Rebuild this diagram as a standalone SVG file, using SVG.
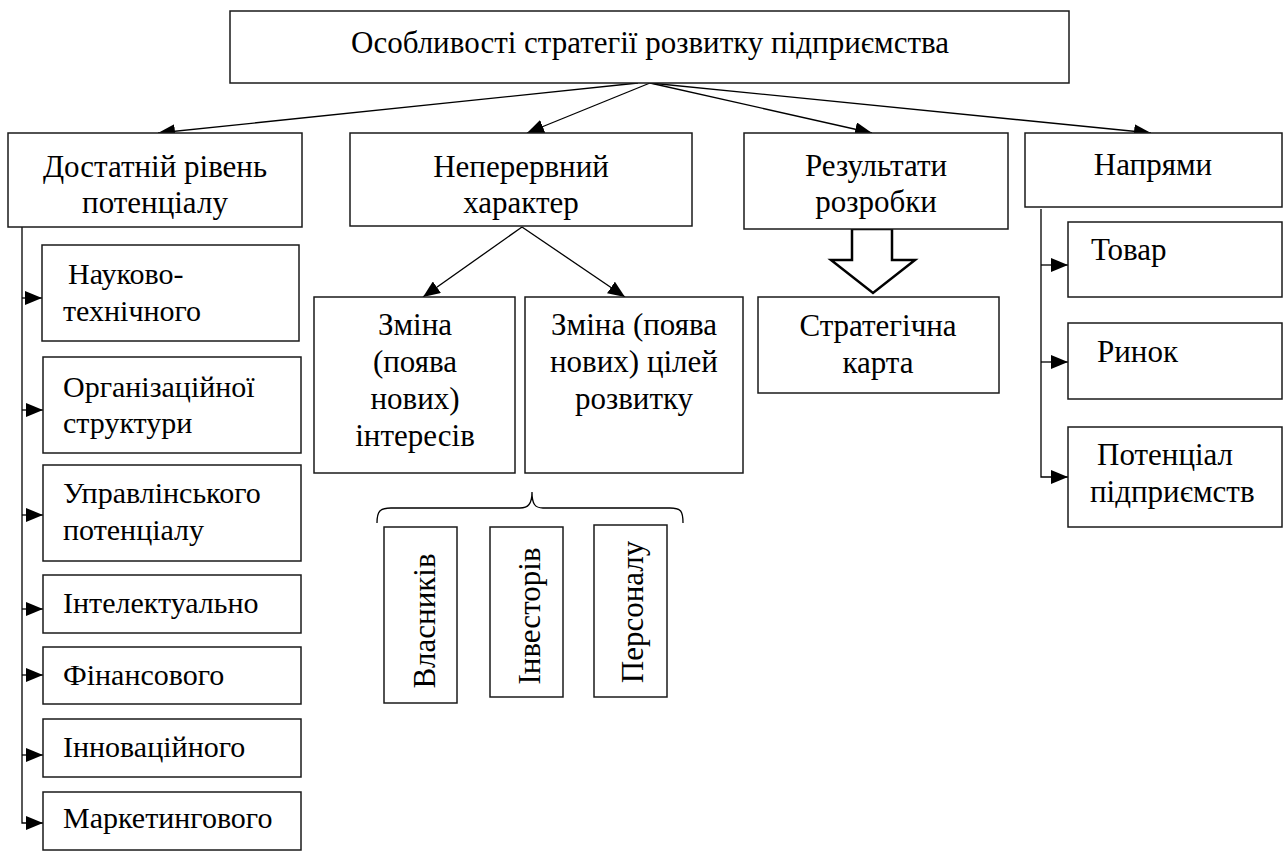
<svg xmlns="http://www.w3.org/2000/svg" width="1283" height="855" viewBox="0 0 1283 855">
<defs>
<style>
.box{fill:#fff;stroke:#1a1a1a;stroke-width:1.5}
.t{font-size:31px;fill:#000}
.s{font-size:30px}
.m{text-anchor:middle}
.c{fill:none;stroke:#000;stroke-width:1.3}
</style>
<marker id="ah" markerUnits="userSpaceOnUse" markerWidth="18" markerHeight="14" refX="17" refY="7" orient="auto">
<path d="M0,0 L17,7 L0,14 z" fill="#000"/>
</marker>
</defs>
<rect width="1283" height="855" fill="#fff"/>

<g id="connectors">
<line class="c" x1="638" y1="83" x2="158" y2="133" marker-end="url(#ah)"/>
<line class="c" x1="650" y1="83" x2="527" y2="133" marker-end="url(#ah)"/>
<line class="c" x1="650" y1="83" x2="872" y2="133" marker-end="url(#ah)"/>
<line class="c" x1="650" y1="83" x2="1151" y2="133" marker-end="url(#ah)"/>
<polyline class="c" points="22,227 22,823 43,823" marker-end="url(#ah)"/>
<line class="c" x1="22" y1="298" x2="42" y2="298" marker-end="url(#ah)"/>
<line class="c" x1="22" y1="410" x2="43" y2="410" marker-end="url(#ah)"/>
<line class="c" x1="22" y1="515" x2="43" y2="515" marker-end="url(#ah)"/>
<line class="c" x1="22" y1="609" x2="43" y2="609" marker-end="url(#ah)"/>
<line class="c" x1="22" y1="675" x2="43" y2="675" marker-end="url(#ah)"/>
<line class="c" x1="22" y1="755" x2="43" y2="755" marker-end="url(#ah)"/>
<line class="c" x1="522" y1="227" x2="423" y2="297" marker-end="url(#ah)"/>
<line class="c" x1="522" y1="227" x2="625" y2="297" marker-end="url(#ah)"/>
<polyline class="c" points="1041,209 1041,477 1068,477" marker-end="url(#ah)"/>
<line class="c" x1="1041" y1="265" x2="1068" y2="265" marker-end="url(#ah)"/>
<line class="c" x1="1041" y1="362" x2="1068" y2="362" marker-end="url(#ah)"/>
<polygon points="852,229 892,229 892,260 915,260 873,293 831,260 852,260" fill="#fff" stroke="#000" stroke-width="2.5"/>
<path class="c" d="M377,523 C377,511 380,508 391,508 L520,508 C528,508 532,504 532,492 C532,504 535,508 543,508 L670,508 C681,508 683,511 683,523"/>
</g>

<g id="n-root">
<rect class="box" x="230" y="11" width="839" height="72"/>
<text class="t m" font-family="Liberation Serif" x="650" y="53" font-size="32">Особливості стратегії розвитку підприємства</text>
</g>
<g id="n-level">
<rect class="box" x="8" y="133" width="294" height="94"/>
<text class="t m" font-family="Liberation Serif" x="155" y="177">Достатній рівень</text>
<text class="t m" font-family="Liberation Serif" x="155" y="213">потенціалу</text>
</g>
<g id="n-cont">
<rect class="box" x="350" y="133" width="342" height="93"/>
<text class="t m" font-family="Liberation Serif" x="521" y="177">Неперервний</text>
<text class="t m" font-family="Liberation Serif" x="521" y="213">характер</text>
</g>
<g id="n-results">
<rect class="box" x="744" y="133" width="264" height="96"/>
<text class="t m" font-family="Liberation Serif" x="876" y="176">Результати</text>
<text class="t m" font-family="Liberation Serif" x="876" y="212">розробки</text>
</g>
<g id="n-dir">
<rect class="box" x="1025" y="133" width="257" height="74"/>
<text class="t m" font-family="Liberation Serif" x="1153" y="175">Напрями</text>
</g>

<g id="n-sci">
<rect class="box" x="42" y="245" width="257" height="96"/>
<text class="t s" font-family="Liberation Serif" x="68" y="284">Науково-</text>
<text class="t s" font-family="Liberation Serif" x="63" y="321">технічного</text>
</g>
<g id="n-org">
<rect class="box" x="43" y="357" width="258" height="96"/>
<text class="t s" font-family="Liberation Serif" x="63" y="397">Організаційної</text>
<text class="t s" font-family="Liberation Serif" x="63" y="433">структури</text>
</g>
<g id="n-mgmt">
<rect class="box" x="43" y="465" width="258" height="96"/>
<text class="t s" font-family="Liberation Serif" x="63" y="503">Управлінського</text>
<text class="t s" font-family="Liberation Serif" x="63" y="540">потенціалу</text>
</g>
<g id="n-int">
<rect class="box" x="43" y="575" width="258" height="58"/>
<text class="t s" font-family="Liberation Serif" x="63" y="613">Інтелектуально</text>
</g>
<g id="n-fin">
<rect class="box" x="43" y="647" width="258" height="57"/>
<text class="t s" font-family="Liberation Serif" x="63" y="685">Фінансового</text>
</g>
<g id="n-inn">
<rect class="box" x="43" y="719" width="258" height="58"/>
<text class="t s" font-family="Liberation Serif" x="63" y="757">Інноваційного</text>
</g>
<g id="n-mkt">
<rect class="box" x="43" y="792" width="258" height="58"/>
<text class="t s" font-family="Liberation Serif" x="63" y="828">Маркетингового</text>
</g>

<g id="n-interests">
<rect class="box" x="314" y="297" width="201" height="176"/>
<text class="t m" font-family="Liberation Serif" x="415" y="335">Зміна</text>
<text class="t m" font-family="Liberation Serif" x="415" y="372">(поява</text>
<text class="t m" font-family="Liberation Serif" x="415" y="409">нових)</text>
<text class="t m" font-family="Liberation Serif" x="415" y="446">інтересів</text>
</g>
<g id="n-goals">
<rect class="box" x="525" y="297" width="218" height="176"/>
<text class="t m" font-family="Liberation Serif" x="634" y="335">Зміна (поява</text>
<text class="t m" font-family="Liberation Serif" x="634" y="372">нових) цілей</text>
<text class="t m" font-family="Liberation Serif" x="634" y="409">розвитку</text>
</g>
<g id="n-owners">
<rect class="box" x="384" y="527" width="73" height="176"/>
<text class="t m" font-family="Liberation Serif" transform="translate(435,621) rotate(-90)">Власників</text>
</g>
<g id="n-investors">
<rect class="box" x="490" y="527" width="73" height="170"/>
<text class="t m" font-family="Liberation Serif" transform="translate(540,616) rotate(-90)">Інвесторів</text>
</g>
<g id="n-staff">
<rect class="box" x="594" y="525" width="73" height="172"/>
<text class="t m" font-family="Liberation Serif" transform="translate(643,612) rotate(-90)">Персоналу</text>
</g>

<g id="n-map">
<rect class="box" x="758" y="297" width="241" height="96"/>
<text class="t m" font-family="Liberation Serif" x="878" y="336">Стратегічна</text>
<text class="t m" font-family="Liberation Serif" x="878" y="373">карта</text>
</g>
<g id="n-product">
<rect class="box" x="1068" y="222" width="214" height="75"/>
<text class="t" font-family="Liberation Serif" x="1091" y="260">Товар</text>
</g>
<g id="n-market">
<rect class="box" x="1068" y="323" width="214" height="76"/>
<text class="t" font-family="Liberation Serif" x="1097" y="362">Ринок</text>
</g>
<g id="n-potential">
<rect class="box" x="1068" y="427" width="214" height="100"/>
<text class="t" font-family="Liberation Serif" x="1097" y="465">Потенціал</text>
<text class="t" font-family="Liberation Serif" x="1090" y="502">підприємств</text>
</g>
</svg>
